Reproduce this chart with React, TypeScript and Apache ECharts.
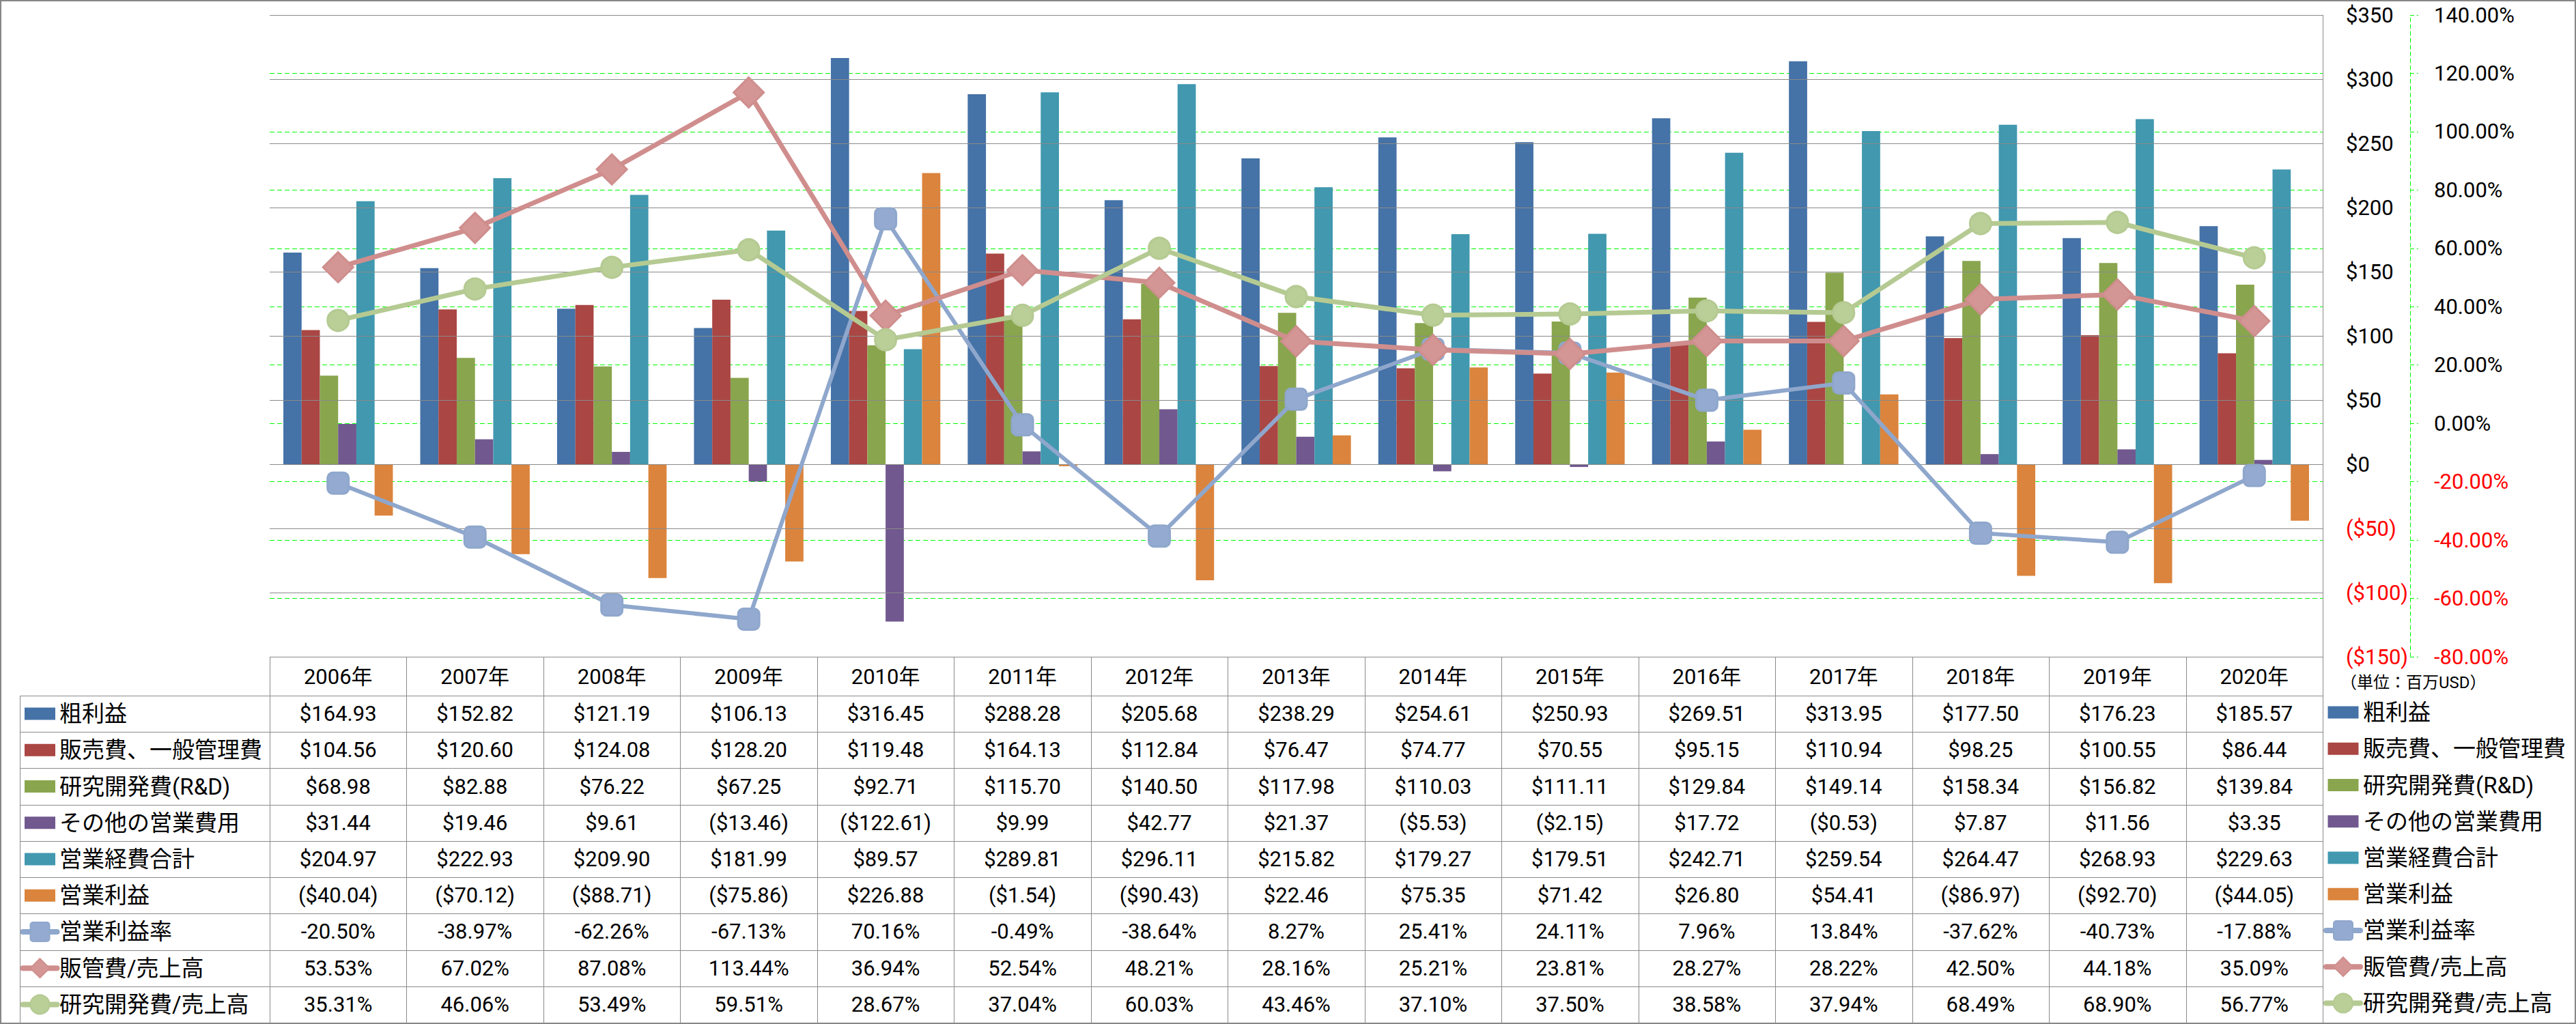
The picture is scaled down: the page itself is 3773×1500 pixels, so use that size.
import React, { useEffect, useRef } from 'react';
import * as echarts from 'echarts';

// ---------- data ----------
const years = ['2006年', '2007年', '2008年', '2009年', '2010年', '2011年', '2012年', '2013年', '2014年', '2015年', '2016年', '2017年', '2018年', '2019年', '2020年'];
const grossProfit = [164.93, 152.82, 121.19, 106.13, 316.45, 288.28, 205.68, 238.29, 254.61, 250.93, 269.51, 313.95, 177.5, 176.23, 185.57];
const sgaExpense = [104.56, 120.6, 124.08, 128.2, 119.48, 164.13, 112.84, 76.47, 74.77, 70.55, 95.15, 110.94, 98.25, 100.55, 86.44];
const rdExpense = [68.98, 82.88, 76.22, 67.25, 92.71, 115.7, 140.5, 117.98, 110.03, 111.11, 129.84, 149.14, 158.34, 156.82, 139.84];
const otherExpense = [31.44, 19.46, 9.61, -13.46, -122.61, 9.99, 42.77, 21.37, -5.53, -2.15, 17.72, -0.53, 7.87, 11.56, 3.35];
const totalOpex = [204.97, 222.93, 209.9, 181.99, 89.57, 289.81, 296.11, 215.82, 179.27, 179.51, 242.71, 259.54, 264.47, 268.93, 229.63];
const operatingIncome = [-40.04, -70.12, -88.71, -75.86, 226.88, -1.54, -90.43, 22.46, 75.35, 71.42, 26.8, 54.41, -86.97, -92.7, -44.05];
const operatingMargin = [-20.5, -38.97, -62.26, -67.13, 70.16, -0.49, -38.64, 8.27, 25.41, 24.11, 7.96, 13.84, -37.62, -40.73, -17.88];
const sgaRatio = [53.53, 67.02, 87.08, 113.44, 36.94, 52.54, 48.21, 28.16, 25.21, 23.81, 28.27, 28.22, 42.5, 44.18, 35.09];
const rdRatio = [35.31, 46.06, 53.49, 59.51, 28.67, 37.04, 60.03, 43.46, 37.1, 37.5, 38.58, 37.94, 68.49, 68.9, 56.77];

const seriesNames = ['粗利益', '販売費、一般管理費', '研究開発費(R&D)', 'その他の営業費用', '営業経費合計', '営業利益', '営業利益率', '販管費/売上高', '研究開発費/売上高'];
const unitLabel = '（単位：百万USD）';

const dollarAxis = { min: -150, max: 350, step: 50 };
const pctAxis = { min: -80, max: 140, step: 20 };

// ---------- styles ----------
const W = 3773;
const H = 1500;
const gridLeft = 395;
const gridRight = 3402;
const gridTop = 22;
const gridBottom = 962;
const tableLeft = 29;
const headerBottom = 1019;
const tableBottom = 1498;
const LINE_GRAY = '#8a8a8a';
const NUM_FONT = 'Roboto, "Noto Sans CJK JP", sans-serif';
const JP_FONT = 'Roboto, "Noto Sans CJK JP", sans-serif';

const barColors = ['#4572A7', '#AA4643', '#89A54E', '#71588F', '#4198AF', '#DB843D'];
const lineStyles = [
  { color: '#8FA7CC', fill: '#94AAD0', width: 6, symbol: 'roundRect', size: 31 },
  { color: '#CF8E8D', fill: '#D39695', width: 7, symbol: 'diamond', size: 44 },
  { color: '#B5CA92', fill: '#BACE98', width: 7, symbol: 'circle', size: 31 },
];

const fmtMoney = (v: number) => (v < 0 ? `($${Math.abs(v).toFixed(2)})` : `$${v.toFixed(2)}`);
const fmtPct = (v: number) => `${v.toFixed(2)}%`;

function legendSymbol(idx: number, cx: number, cy: number): any[] {
  if (idx < 6) {
    return [{ type: 'rect', shape: { x: cx - 22.5, y: cy - 9, width: 45, height: 18 }, style: { fill: barColors[idx] }, silent: true }];
  }
  const ls = lineStyles[idx - 6];
  const els: any[] = [
    { type: 'line', shape: { x1: cx - 25, y1: cy, x2: cx + 25, y2: cy }, style: { stroke: ls.color, lineWidth: 8, lineCap: 'round' }, silent: true },
  ];
  if (ls.symbol === 'roundRect') {
    els.push({ type: 'rect', shape: { x: cx - 14, y: cy - 14, width: 28, height: 28, r: 4 }, style: { fill: ls.fill, stroke: ls.color, lineWidth: 2 }, silent: true });
  } else if (ls.symbol === 'diamond') {
    els.push({ type: 'polygon', shape: { points: [[cx, cy - 14], [cx + 14, cy], [cx, cy + 14], [cx - 14, cy]] }, style: { fill: ls.fill, stroke: ls.color, lineWidth: 2 }, silent: true });
  } else {
    els.push({ type: 'circle', shape: { cx, cy, r: 14 }, style: { fill: ls.fill, stroke: ls.color, lineWidth: 2 }, silent: true });
  }
  return els;
}

function txt(text: string, x: number, y: number, size: number, align: string, fill = '#000', family = NUM_FONT) {
  return {
    type: 'text',
    silent: true,
    style: {
      text, x, y, fill, fontSize: size, fontFamily: family,
      align, verticalAlign: 'middle', textAlign: align, textVerticalAlign: 'middle',
    },
  };
}

export default function App() {
  const ref = useRef<HTMLDivElement>(null);

  useEffect(() => {
    if (!ref.current) return;
    const chart = echarts.init(ref.current, undefined, { renderer: 'svg', width: W, height: H });

    const barData = [grossProfit, sgaExpense, rdExpense, otherExpense, totalOpex, operatingIncome];
    const lineData = [operatingMargin, sgaRatio, rdRatio];
    const tableRows = [...barData, ...lineData];

    const nCols = years.length;
    const colW = (gridRight - gridLeft) / nCols;
    const rowH = (tableBottom - headerBottom) / tableRows.length;

    const g: any[] = [];
    // outer border
    g.push({ type: 'rect', shape: { x: 1, y: 1, width: W - 2, height: H - 2 }, style: { fill: 'none', stroke: '#878787', lineWidth: 2 }, silent: true, z: 10 });
    // horizontal table lines
    g.push({ type: 'line', shape: { x1: gridLeft, y1: gridBottom + 0.5, x2: gridRight, y2: gridBottom + 0.5 }, style: { stroke: LINE_GRAY, lineWidth: 1 }, silent: true });
    for (let k = 0; k <= tableRows.length; k++) {
      const y = Math.round(headerBottom + k * rowH) + 0.5;
      g.push({ type: 'line', shape: { x1: tableLeft, y1: y, x2: gridRight, y2: y }, style: { stroke: LINE_GRAY, lineWidth: 1 }, silent: true });
    }
    // vertical table lines
    g.push({ type: 'line', shape: { x1: tableLeft + 0.5, y1: headerBottom, x2: tableLeft + 0.5, y2: tableBottom }, style: { stroke: LINE_GRAY, lineWidth: 1 }, silent: true });
    for (let i = 0; i <= nCols; i++) {
      const x = Math.round(gridLeft + i * colW) + 0.5;
      g.push({ type: 'line', shape: { x1: x, y1: gridBottom, x2: x, y2: tableBottom }, style: { stroke: LINE_GRAY, lineWidth: 1 }, silent: true });
    }
    // header
    years.forEach((yr, i) => {
      g.push(txt(yr, gridLeft + (i + 0.5) * colW, (gridBottom + headerBottom) / 2 + 1, 31, 'center'));
    });
    // values + legends
    tableRows.forEach((vals, k) => {
      const cy = headerBottom + (k + 0.5) * rowH;
      vals.forEach((v, i) => {
        g.push(txt(k < 6 ? fmtMoney(v) : fmtPct(v), gridLeft + (i + 0.5) * colW, cy, 31, 'center'));
      });
      g.push(...legendSymbol(k, 58.5, cy));
      g.push(txt(seriesNames[k], 87, cy, 33, 'left', '#000', JP_FONT));
      g.push(...legendSymbol(k, 3432, cy - 2));
      g.push(txt(seriesNames[k], 3461, cy - 2, 33, 'left', '#000', JP_FONT));
    });
    g.push(txt(unitLabel, 3428, 1000, 24, 'left', '#000', JP_FONT));

    const barSeries = barData.map((d, i) => ({
      name: seriesNames[i],
      type: 'bar',
      yAxisIndex: 0,
      data: d,
      barGap: '0%',
      barCategoryGap: '20%',
      itemStyle: { color: barColors[i] },
      z: 2,
    }));
    const lineSeries = lineData.map((d, i) => ({
      name: seriesNames[6 + i],
      type: 'line',
      yAxisIndex: 1,
      data: d,
      symbol: lineStyles[i].symbol,
      symbolSize: lineStyles[i].size,
      showAllSymbol: true,
      lineStyle: { color: lineStyles[i].color, width: lineStyles[i].width, join: 'miter' },
      itemStyle: { color: lineStyles[i].fill, borderColor: lineStyles[i].color, borderWidth: 3 },
      z: 5 + i,
    }));

    chart.setOption({
      animation: false,
      backgroundColor: '#ffffff',
      grid: { left: gridLeft, right: W - gridRight, top: gridTop, bottom: H - gridBottom, containLabel: false },
      xAxis: {
        type: 'category',
        data: years,
        axisLine: { show: false },
        axisTick: { show: false },
        axisLabel: { show: false },
        splitLine: { show: false },
      },
      yAxis: [
        {
          type: 'value',
          position: 'right',
          min: dollarAxis.min,
          max: dollarAxis.max,
          interval: dollarAxis.step,
          axisLine: { show: true, lineStyle: { color: LINE_GRAY, width: 1 } },
          axisTick: { show: false },
          splitLine: { show: true, lineStyle: { color: LINE_GRAY, width: 1 } },
          axisLabel: {
            margin: 34,
            align: 'left',
            fontSize: 31,
            fontFamily: NUM_FONT,
            color: (v: any) => (Number(v) < 0 ? '#FF0000' : '#000000'),
            formatter: (v: number) => (v < 0 ? `($${Math.abs(v)})` : `$${v}`),
          },
          z: 3,
        },
        {
          type: 'value',
          position: 'right',
          offset: 128,
          min: pctAxis.min,
          max: pctAxis.max,
          interval: pctAxis.step,
          axisLine: { show: true, lineStyle: { color: '#00FF00', width: 1, type: [6, 4] } },
          axisTick: { show: true, length: 12, lineStyle: { color: '#00FF00', width: 1, type: [6, 4] } },
          splitLine: { show: true, lineStyle: { color: '#00FF00', width: 1, type: [7, 4] } },
          axisLabel: {
            margin: 35,
            align: 'left',
            fontSize: 31,
            fontFamily: NUM_FONT,
            color: (v: any) => (Number(v) < 0 ? '#FF0000' : '#000000'),
            formatter: (v: number) => `${v.toFixed(2)}%`,
          },
          z: 1,
        },
      ],
      series: [...barSeries, ...lineSeries],
      graphic: { elements: g },
    });

    return () => chart.dispose();
  }, []);

  return <div ref={ref} style={{ position: 'fixed', left: 0, top: 0, width: W, height: H, background: '#fff' }} />;
}
